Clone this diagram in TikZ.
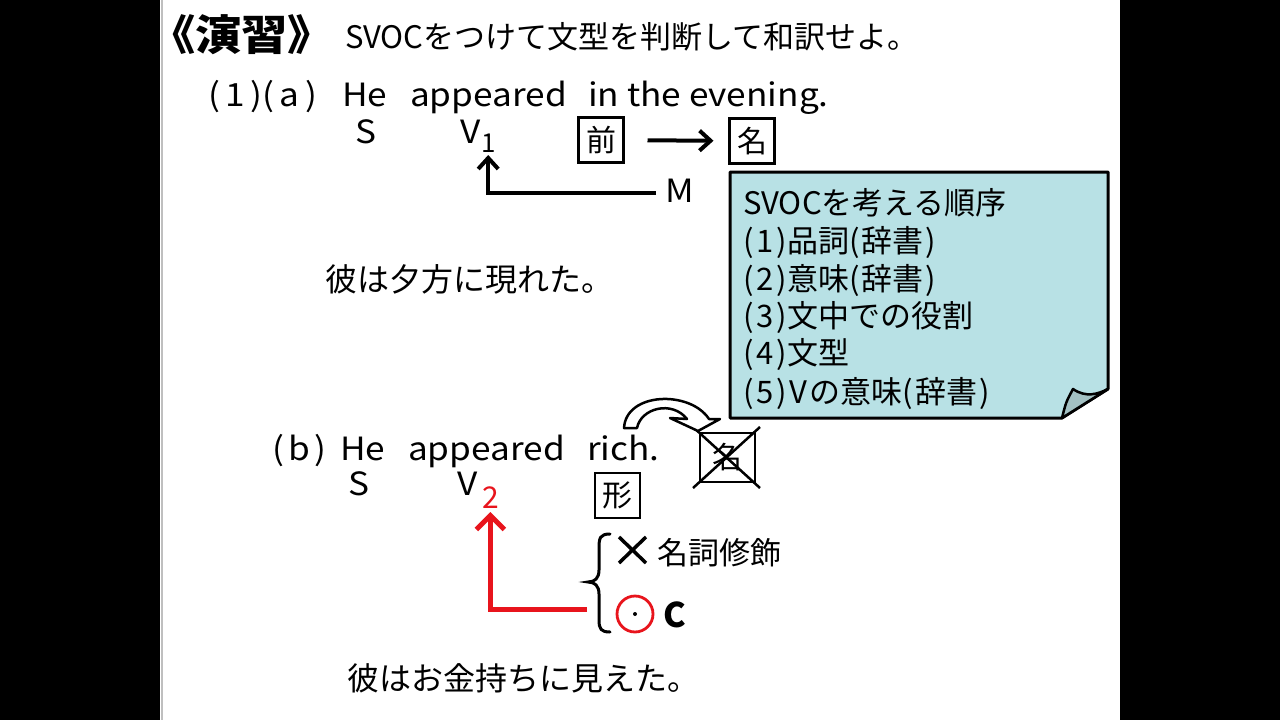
\documentclass[tikz,border=0pt]{standalone}
\usepackage{fontspec}
\setmainfont{Noto Sans CJK JP}
\usetikzlibrary{arrows.meta}
\definecolor{notecol}{HTML}{B8E1E5}
\definecolor{flapcol}{HTML}{A3C1C3}
\definecolor{redc}{HTML}{E8141C}
\begin{document}
\begin{tikzpicture}[x=1pt,y=-1pt,
  every node/.style={inner sep=0pt,outer sep=0pt},
  jtxt/.style={font=\fontsize{32}{38}\selectfont,anchor=west},
  ntxt/.style={font=\fontsize{31}{37}\selectfont,anchor=west},
  ltxt/.style={font=\fontsize{32}{38}\selectfont,anchor=base west,xscale=1.1},
  subtxt/.style={font=\fontsize{26}{30}\selectfont,anchor=base west},
  pbox/.style={draw,line width=2.5,minimum width=45,minimum height=45,font=\fontsize{30}{36}\selectfont},
  barrow/.style={line width=4,-{Straight Barb[length=11,width=20]}},
  rarrow/.style={draw=redc,line width=5,-{Straight Barb[length=14,width=28]}}]
\useasboundingbox (0,0) rectangle (1280,720);
\fill[black] (0,0) rectangle (160,720);
\fill[black] (1120,0) rectangle (1280,720);
\fill[white] (160,0) rectangle (1120,720);
\draw[gray!50,line width=2] (162,0) -- (162,720);

% title
\node[anchor=west,font=\fontsize{42}{48}\selectfont\bfseries,xscale=1.1] (title) at (149,35) {《演習》};
\node[font=\fontsize{31}{37}\selectfont,anchor=west] (instr) at (345,37) {SVOCをつけて文型を判断して和訳せよ。};

% (a)
\node[ltxt] (a1) at (208,106) {(\hspace{5pt}1\hspace{5pt})(\hspace{5pt}a\hspace{5pt})};
\node[ltxt] (aHe) at (342,106) {He};
\node[ltxt] (aapp) at (410,106) {appeared};
\node[ltxt] (aeve) at (588,106) {in the evening.};
\node[ltxt] (aS) at (355,143) {S};
\node[ltxt] (aV) at (460,143) {V};
\node[subtxt] (sub1) at (481,152) {1};
\node[pbox] (mae) at (601,140) {前};
\node[pbox] (mei) at (752,141) {名};
\draw[barrow,shorten <=24,shorten >=16] (mae) -- (mei);
\node[ltxt] (M) at (665,202) {M};
\coordinate (mstart) at (656,193);
\draw[barrow,shorten >=3] (mstart) -| (sub1.south);
\node[jtxt] (transa) at (325,279) {彼は夕方に現れた。};

% note
\draw[fill=notecol,line width=3,line join=round] (730,172) -- (1108,172) -- (1108,389) -- (1062,418) -- (730,418) -- cycle;
\draw[fill=flapcol,line width=2.5,line join=round] (1062,418) .. controls (1066,402) .. (1073,389) .. controls (1086,398) and (1098,394) .. (1108,389) -- cycle;
\node[ntxt] (n0) at (743,203) {SVOCを考える順序};
\node[ntxt] (n1) at (743,242) {(\hspace{3pt}1\hspace{3pt})品詞(\hspace{2pt}辞書\hspace{2pt})};
\node[ntxt] (n2) at (743,280) {(\hspace{3pt}2\hspace{3pt})意味(\hspace{2pt}辞書\hspace{2pt})};
\node[ntxt] (n3) at (743,318) {(\hspace{3pt}3\hspace{3pt})文中での役割};
\node[ntxt] (n4) at (743,355) {(\hspace{3pt}4\hspace{3pt})文型};
\node[ntxt] (n5) at (743,393) {(\hspace{3pt}5\hspace{3pt})\hspace{2pt}V\hspace{3pt}の意味(\hspace{2pt}辞書\hspace{2pt})};

% (b)
\node[ltxt] (b1) at (272,460) {(\hspace{4pt}b\hspace{4pt})};
\node[ltxt] (bHe) at (340,460) {He};
\node[ltxt] (bapp) at (408,460) {appeared};
\node[ltxt] (brich) at (587,460) {rich.};
\node[ltxt] (bS) at (348,495) {S};
\node[ltxt] (bV) at (457,495) {V};
\node[anchor=base west,font=\fontsize{30}{34}\selectfont,text=redc] (sub2) at (482,508) {2};
\node[pbox] (kei) at (617.5,495.5) {形};
\node[draw,line width=2.5,minimum width=55,minimum height=49,font=\fontsize{30}{36}\selectfont] (xmei) at (727.5,457.5) {名};
\draw[line width=2.5] (693,427) -- (760,488);
\draw[line width=2.5] (693,488) -- (760,427);
% hollow curved arrow
\draw[fill=white,line width=2.5,line join=round] (624,428) -- (637,428) .. controls (641,408) and (672,400) .. (687,419) -- (670,418) -- (698,431) -- (720,419) -- (709,419) .. controls (690,390) and (626,392) .. (624,428) -- cycle;

% red arrow
\coordinate (rstart) at (587,609);
\draw[rarrow,shorten >=4] (rstart) -| (sub2.south);
% brace
\draw[line width=3,line cap=round] (610,534) .. controls (600,534) and (599,538) .. (599,548) -- (599,570) .. controls (599,578) and (595,582) .. (588,582) .. controls (595,582) and (599,586) .. (599,594) -- (599,620) .. controls (599,629) and (601,632) .. (610,632);
% cross mark
\coordinate (xa) at (619,537);
\coordinate (xb) at (646,563);
\draw[line width=3.5] (xa) -- (xb);
\draw[line width=3.5] (xa |- xb) -- (xb |- xa);
\node[ntxt] (meishi) at (657,553) {名詞修飾};
\node[circle,draw=redc,line width=2.8,minimum size=36] (okc) at (635,614) {};
\fill (okc.center) circle (2);
\node[anchor=base west,font=\fontsize{34}{40}\selectfont\bfseries] (C) at (663,627) {C};
\node[jtxt] (transb) at (347,678) {彼はお金持ちに見えた。};
\end{tikzpicture}
\end{document}
